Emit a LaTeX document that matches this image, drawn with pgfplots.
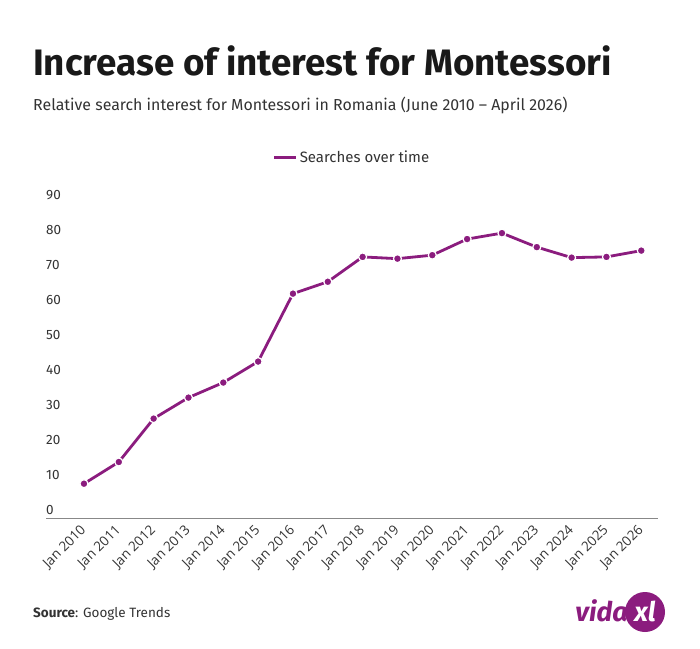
\documentclass[border=0pt]{standalone}
\usepackage{pgfplots}
\pgfplotsset{compat=1.18}
\usepackage{fontspec}
\setmainfont{Fira Sans}
\newfontfamily\opensans{Open Sans}
\definecolor{vpurple}{HTML}{8B1C7E}
\definecolor{txtgray}{HTML}{333333}
\definecolor{axgray}{HTML}{888888}
\begin{document}
\begin{tikzpicture}[x=1pt,y=1pt]
\path[use as bounding box] (0,0) rectangle (700,-648);
\node[anchor=base west, inner sep=0pt, font=\fontsize{36.8}{42}\selectfont\bfseries, text=black!90] at (33,-75) {Increase of interest for Montessori};
\node[anchor=base west, inner sep=0pt, font=\fontsize{15.9}{19}\selectfont, text=txtgray] at (33,-110) {Relative search interest for Montessori in Romania (June 2010 – April 2026)};
\begin{axis}[
  at={(46pt,-518pt)}, anchor=south west,
  scale only axis, width=612pt, height=315pt,
  xmin=-1.09, xmax=16.48, ymin=0, ymax=90,
  axis lines*=left,
  x axis line style={draw=axgray, line width=0.8pt},
  y axis line style={draw=none},
  major tick length=0pt,
  ytick={0,10,...,90},
  xtick={0,...,16},
  xticklabels={Jan 2010,Jan 2011,Jan 2012,Jan 2013,Jan 2014,Jan 2015,Jan 2016,Jan 2017,Jan 2018,Jan 2019,Jan 2020,Jan 2021,Jan 2022,Jan 2023,Jan 2024,Jan 2025,Jan 2026},
  yticklabel style={anchor=south west, inner sep=0pt, xshift=0pt, yshift=3pt, font=\fontsize{13.5}{16}\selectfont, text=txtgray},
  xticklabel style={rotate=45, anchor=east, inner sep=0pt, font=\opensans\fontsize{13.5}{16}\selectfont, text=txtgray},
  xticklabel shift=10pt,
  yticklabel shift=0pt,
  /pgf/number format/assume math mode=true,
  clip=false,
  legend style={at={(0.5,1)}, anchor=center, yshift=46pt, draw=none, fill=none, font=\fontsize{15}{18}\selectfont, text=txtgray, legend cell align=left},
  legend image code/.code={\draw[vpurple, line width=3pt] (0pt,0pt) -- (22pt,0pt);},
]
\addplot[vpurple, line width=2.8pt, mark=*, mark size=4pt, mark options={fill=vpurple, draw=white, line width=1.2pt}]
coordinates {
(0,9.8) (1,16.0) (2,28.4) (3,34.4) (4,38.7) (5,44.7) (6,64.1) (7,67.5) (8,74.6) (9,74.1) (10,75.1) (11,79.7) (12,81.4) (13,77.4) (14,74.4) (15,74.6) (16,76.4)
};
\addlegendentry{Searches over time}
\end{axis}
\node[anchor=base west, inner sep=0pt, font=\fontsize{13.5}{16}\selectfont, text=txtgray] at (33,-617) {\textbf{Source}: Google Trends};
\fill[vpurple] (645,-612) circle (20);
\node[anchor=base east, inner sep=0pt, font=\fontsize{27}{30}\selectfont\bfseries\itshape, text=vpurple] at (628,-621) {vida};
\node[anchor=base, inner sep=0pt, font=\fontsize{27}{30}\selectfont\bfseries\itshape, text=white] at (645,-621) {xl};
\end{tikzpicture}
\end{document}
